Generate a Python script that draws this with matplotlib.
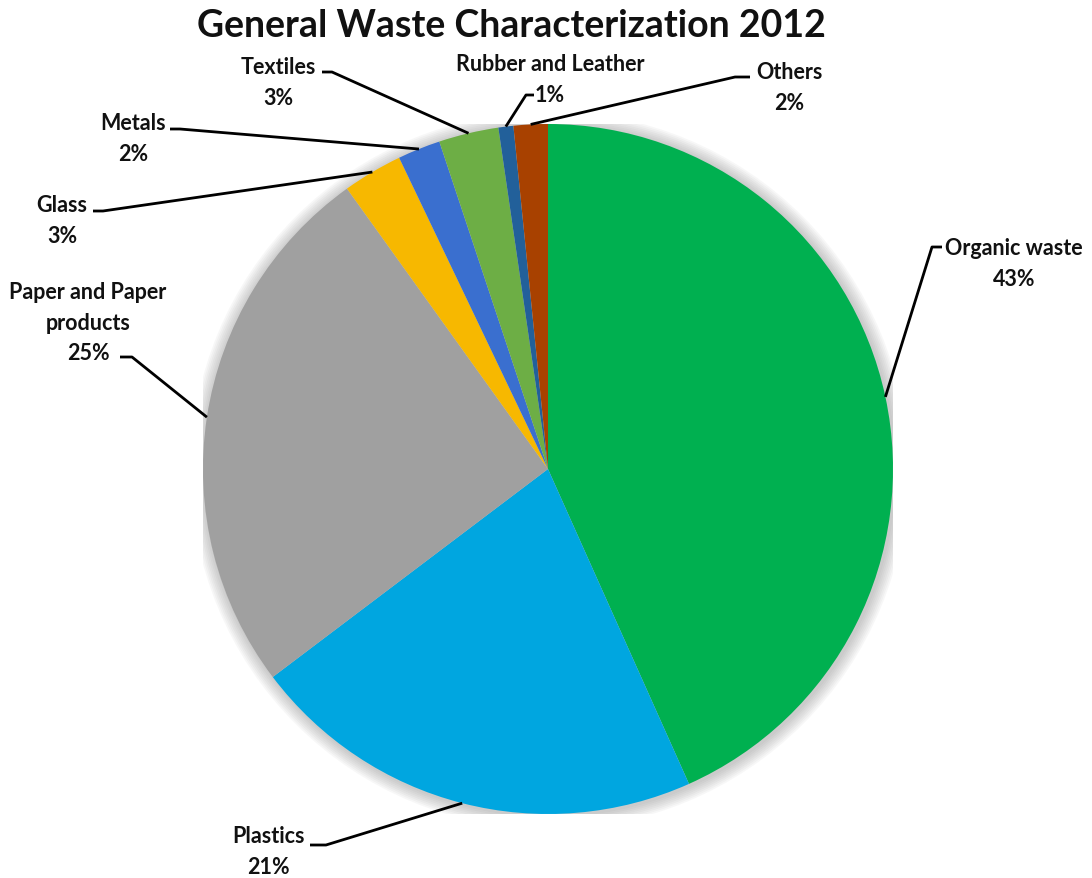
'''General waste characterization pie chart.'''

import matplotlib.pyplot as plt
import numpy as np
from matplotlib.patches import Circle

categories = ['Organic waste', 'Plastics', 'Paper and Paper\nproducts', 'Glass',
              'Metals', 'Textiles', 'Rubber and Leather', 'Others']
shares = [43.3, 21.4, 25.4, 2.8, 2.0, 2.8, 0.7, 1.6]
colors = ['#00B050', '#00A6E0', '#A0A0A0', '#F7B800',
          '#3A6FCF', '#6DAE45', '#22609A', '#A84100']

# label layout in pixels: text centre, stub outer end, stub inner end
layout = [
    ((1014, 264), (942, 248), (932, 248)),
    ((268, 852), (310, 846), (326, 846)),
    ((88, 323), (120, 358), (132, 358)),
    ((62, 221), (93, 212), (103, 212)),
    ((133, 139), (170, 130), (180, 130)),
    ((278, 83), (322, 73), (332, 73)),
    ((550, 80), (534, 96), (526, 96)),
    ((789, 88), (750, 78), (735, 78)),
]

W, H = 1092, 879
CX, CY, R = 548, 470, 345


def px2d(x, y):
    return (x - CX) / R, (CY - y) / R


plt.rcParams['font.family'] = ['Lato', 'DejaVu Sans']
fig = plt.figure(figsize=(W / 100, H / 100), dpi=100)
ax = fig.add_axes([(CX - R) / W, (H - CY - R) / H, 2 * R / W, 2 * R / H])

# soft shadow around the pie
for k in range(1, 9):
    ax.add_patch(Circle((0.004, -0.004), 1 + k * 0.005, color='#808080',
                        alpha=0.06, zorder=0, lw=0))

wedges, _ = ax.pie(shares, colors=colors, startangle=90, counterclock=False,
                   radius=1, wedgeprops=dict(linewidth=0))

for w, name, val, (tc, s_out, s_in) in zip(wedges, categories, shares, layout):
    mid = np.deg2rad((w.theta1 + w.theta2) / 2)
    ex, ey = np.cos(mid), np.sin(mid)
    x0, y0 = px2d(*s_out)
    x1, y1 = px2d(*s_in)
    ax.plot([x0, x1, ex], [y0, y1, ey], color='black', lw=2, clip_on=False,
            solid_capstyle='butt', zorder=3)
    tx, ty = px2d(*tc)
    ax.text(tx, ty, f'{name}\n{round(val)}%', ha='center', va='center',
            multialignment='center', fontsize=15.5, fontweight='bold',
            linespacing=1.55, color='#111111')

ax.set_xlim(-1, 1)
ax.set_ylim(-1, 1)
ax.set_aspect('equal')
ax.axis('off')

fig.text(511 / W, 1 - 26 / H, 'General Waste Characterization 2012',
         ha='center', va='center', fontsize=27, fontweight='bold', color='#111111')

fig.savefig('out.png', dpi=100)
